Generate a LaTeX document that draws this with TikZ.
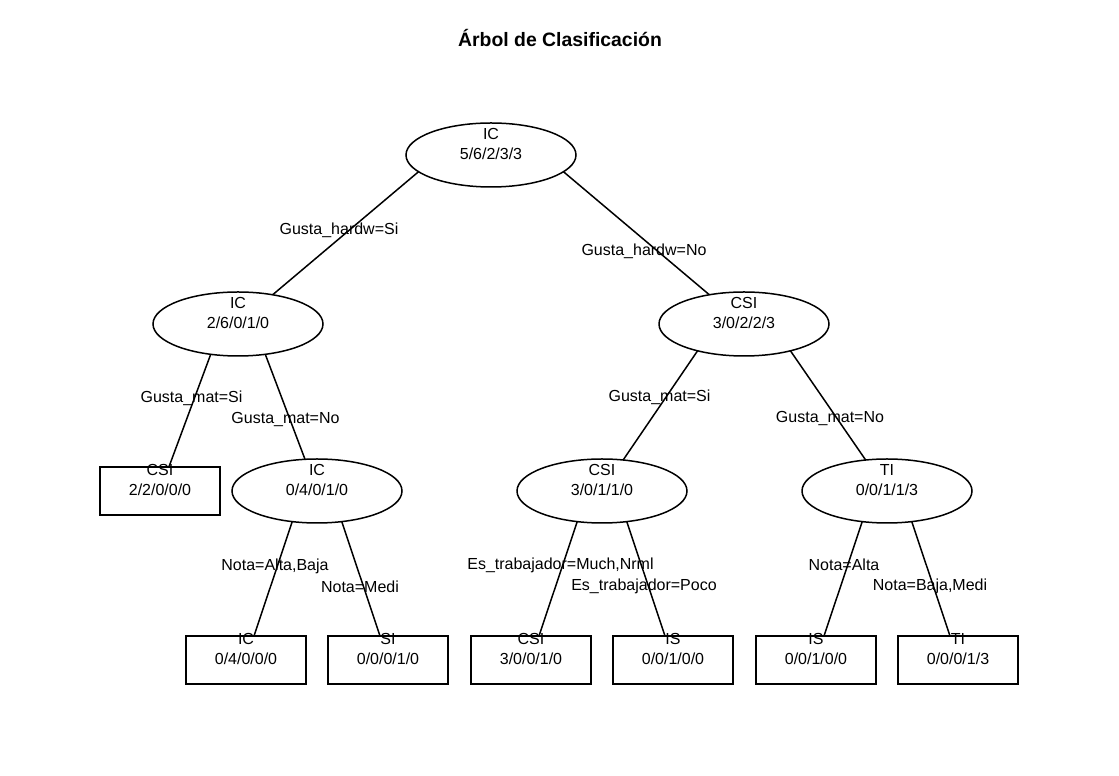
\documentclass[tikz,border=0pt]{standalone}
\usepackage{fontspec}
\setmainfont{Liberation Sans}
\usepackage{tikz}
\usetikzlibrary{shapes.geometric}

\tikzset{
    txt/.style={align=center, inner sep=0pt, yshift=10.75pt},
    split/.style={ellipse, draw, line width=1.5pt, minimum width=170pt, minimum height=64pt,
        inner sep=0pt, outer sep=0pt, label={[txt]center:#1}},
    leaf/.style={rectangle, draw, line width=1.5pt, minimum width=120pt, minimum height=48pt,
        inner sep=0pt, outer sep=0pt, label={[txt]center:#1}},
    cond/.style={anchor=base, inner sep=0pt},
    branch/.style={line width=1.5pt}
}

\begin{document}
\begin{tikzpicture}[x=1pt, y=1pt, font=\fontsize{16}{20}\selectfont]
    \useasboundingbox (0,0) rectangle (1119,776);
    \node[anchor=base, font=\bfseries\fontsize{19.4}{23}\selectfont] (title) at (560,729.3) {Árbol de Clasificación};

    % inner nodes
    \node[split={IC\\5/6/2/3/3}] (root) at (491,621) {};
    \node[split={IC\\2/6/0/1/0}] (ic1) at (238,452) {};
    \node[split={CSI\\3/0/2/2/3}] (csi1) at (744,452) {};
    \node[split={IC\\0/4/0/1/0}] (ic2) at (317,285) {};
    \node[split={CSI\\3/0/1/1/0}] (csi2) at (602,285) {};
    \node[split={TI\\0/0/1/1/3}] (ti) at (887,285) {};

    % leaves
    \node[leaf={CSI\\2/2/0/0/0}] (hoja1) at (160,285) {};
    \node[leaf={IC\\0/4/0/0/0}] (hoja2) at (246,116) {};
    \node[leaf={SI\\0/0/0/1/0}] (hoja3) at (388,116) {};
    \node[leaf={CSI\\3/0/0/1/0}] (hoja4) at (531,116) {};
    \node[leaf={IS\\0/0/1/0/0}] (hoja5) at (673,116) {};
    \node[leaf={IS\\0/0/1/0/0}] (hoja6) at (816,116) {};
    \node[leaf={TI\\0/0/0/1/3}] (hoja7) at (958,116) {};

    % branches
    \draw[branch] (root.193) -- (ic1);
    \draw[branch] (root.347) -- (csi1);
    \draw[branch] (ic1.228) -- (hoja1);
    \draw[branch] (ic1.312) -- (ic2);
    \draw[branch] (csi1.210) -- (csi2);
    \draw[branch] (csi1.330) -- (ti);
    \draw[branch] (ic2.231) -- (hoja2);
    \draw[branch] (ic2.309) -- (hoja3);
    \draw[branch] (csi2.231) -- (hoja4);
    \draw[branch] (csi2.309) -- (hoja5);
    \draw[branch] (ti.231) -- (hoja6);
    \draw[branch] (ti.309) -- (hoja7);

    % conditions
    \node[cond] (c1) at (339,541) {Gusta\_hardw=Si};
    \node[cond] (c2) at (644,520) {Gusta\_hardw=No};
    \node[cond] (c3) at (191.5,373) {Gusta\_mat=Si};
    \node[cond] (c4) at (285.5,352) {Gusta\_mat=No};
    \node[cond] (c5) at (659.5,374) {Gusta\_mat=Si};
    \node[cond] (c6) at (830,353) {Gusta\_mat=No};
    \node[cond] (c7) at (275,205) {Nota=Alta,Baja};
    \node[cond] (c8) at (360,183) {Nota=Medi};
    \node[cond] (c9) at (560.5,206) {Es\_trabajador=Much,Nrml};
    \node[cond] (c10) at (644,185) {Es\_trabajador=Poco};
    \node[cond] (c11) at (844,205) {Nota=Alta};
    \node[cond] (c12) at (930,185) {Nota=Baja,Medi};
\end{tikzpicture}
\end{document}
